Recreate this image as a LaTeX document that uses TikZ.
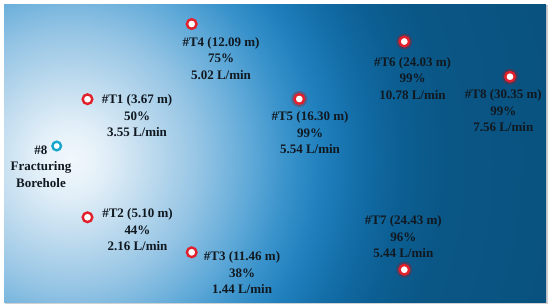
\documentclass[tikz,border=0pt]{standalone}
\usepackage{fontspec}
\setmainfont{Liberation Serif}
\definecolor{g0}{HTML}{F2F8FC}
\definecolor{g1}{HTML}{E2EFF8}
\definecolor{g2}{HTML}{C6DFF0}
\definecolor{g3}{HTML}{94C4E4}
\definecolor{g4}{HTML}{5FA9D8}
\definecolor{g5}{HTML}{3A93CB}
\definecolor{g6}{HTML}{2080BD}
\definecolor{g7}{HTML}{136DA7}
\definecolor{g8}{HTML}{0C5F93}
\definecolor{g9}{HTML}{0A5685}
\definecolor{g10}{HTML}{08507C}
\definecolor{txt}{HTML}{101820}
\definecolor{mred}{HTML}{E2202C}
\definecolor{mcyan}{HTML}{18A6CC}
\pgfdeclareradialshading{bgshade}{\pgfpoint{0bp}{0bp}}{%
  color(0bp)=(g0); color(1.6bp)=(g1); color(3.2bp)=(g2); color(5.9bp)=(g3);
  color(8.2bp)=(g4); color(9.8bp)=(g5); color(11.4bp)=(g6); color(13.2bp)=(g7);
  color(15bp)=(g8); color(17.3bp)=(g9); color(25bp)=(g10); color(50bp)=(g10)}
\tikzset{
  lbl/.style={align=center, inner sep=0pt, text=txt,
    font=\fontsize{13}{16.5}\selectfont\bfseries},
  tmark/.style={circle, draw=mred, line width=2.4pt, fill=white,
    minimum size=9.6pt, inner sep=0pt},
  glow/.style={circle, fill=mred!70!black, opacity=0.35, minimum size=16pt, inner sep=0pt},
  bmark/.style={circle, draw=mcyan, line width=2.4pt, fill=white,
    minimum size=8.6pt, inner sep=0pt}
}
\begin{document}
\begin{tikzpicture}[x=1pt,y=-1pt]
\useasboundingbox (0,0) rectangle (550,306);
\fill[white] (0,0) rectangle (550,306);
\fill[black!18] (5,5) rectangle (547.5,303.5);
\begin{scope}
  \clip (4,4) rectangle (546,302);
  \shade[shading=bgshade] (-480,-390) rectangle (620,710);
\end{scope}
% glows
\node[glow] (g5) at (299.3,99) {};
\node[glow] (g6) at (404.3,41.5) {};
\node[glow] (g8) at (510,76.7) {};
\node[glow] (g7) at (404.3,269.7) {};
% markers
\node[bmark] (b8) at (56.7,146) {};
\node[tmark] (t1) at (87.5,99.2) {};
\node[tmark] (t2) at (87.5,217.3) {};
\node[tmark] (t3) at (191.7,252.3) {};
\node[tmark] (t4) at (191.7,24) {};
\node[tmark] (t5) at (299.3,99) {};
\node[tmark] (t6) at (404.3,41.5) {};
\node[tmark] (t8) at (510,76.7) {};
\node[tmark] (t7) at (404.3,269.7) {};
% labels
\node[lbl] (l8) at (41,166.5) {\#8\\Fracturing\\Borehole};
\node[lbl] (l1) at (137,116) {\#T1 (3.67 m)\\50\%\\3.55 L/min};
\node[lbl] (l2) at (137.5,230) {\#T2 (5.10 m)\\44\%\\2.16 L/min};
\node[lbl] (l3) at (242,272.8) {\#T3 (11.46 m)\\38\%\\1.44 L/min};
\node[lbl] (l4) at (221,58.3) {\#T4 (12.09 m)\\75\%\\5.02 L/min};
\node[lbl] (l5) at (310,133) {\#T5 (16.30 m)\\99\%\\5.54 L/min};
\node[lbl] (l6) at (412.5,78.3) {\#T6 (24.03 m)\\99\%\\10.78 L/min};
\node[lbl] (l8b) at (503.3,110.7) {\#T8 (30.35 m)\\99\%\\7.56 L/min};
\node[lbl] (l7) at (403.3,237) {\#T7 (24.43 m)\\96\%\\5.44 L/min};
\end{tikzpicture}
\end{document}
